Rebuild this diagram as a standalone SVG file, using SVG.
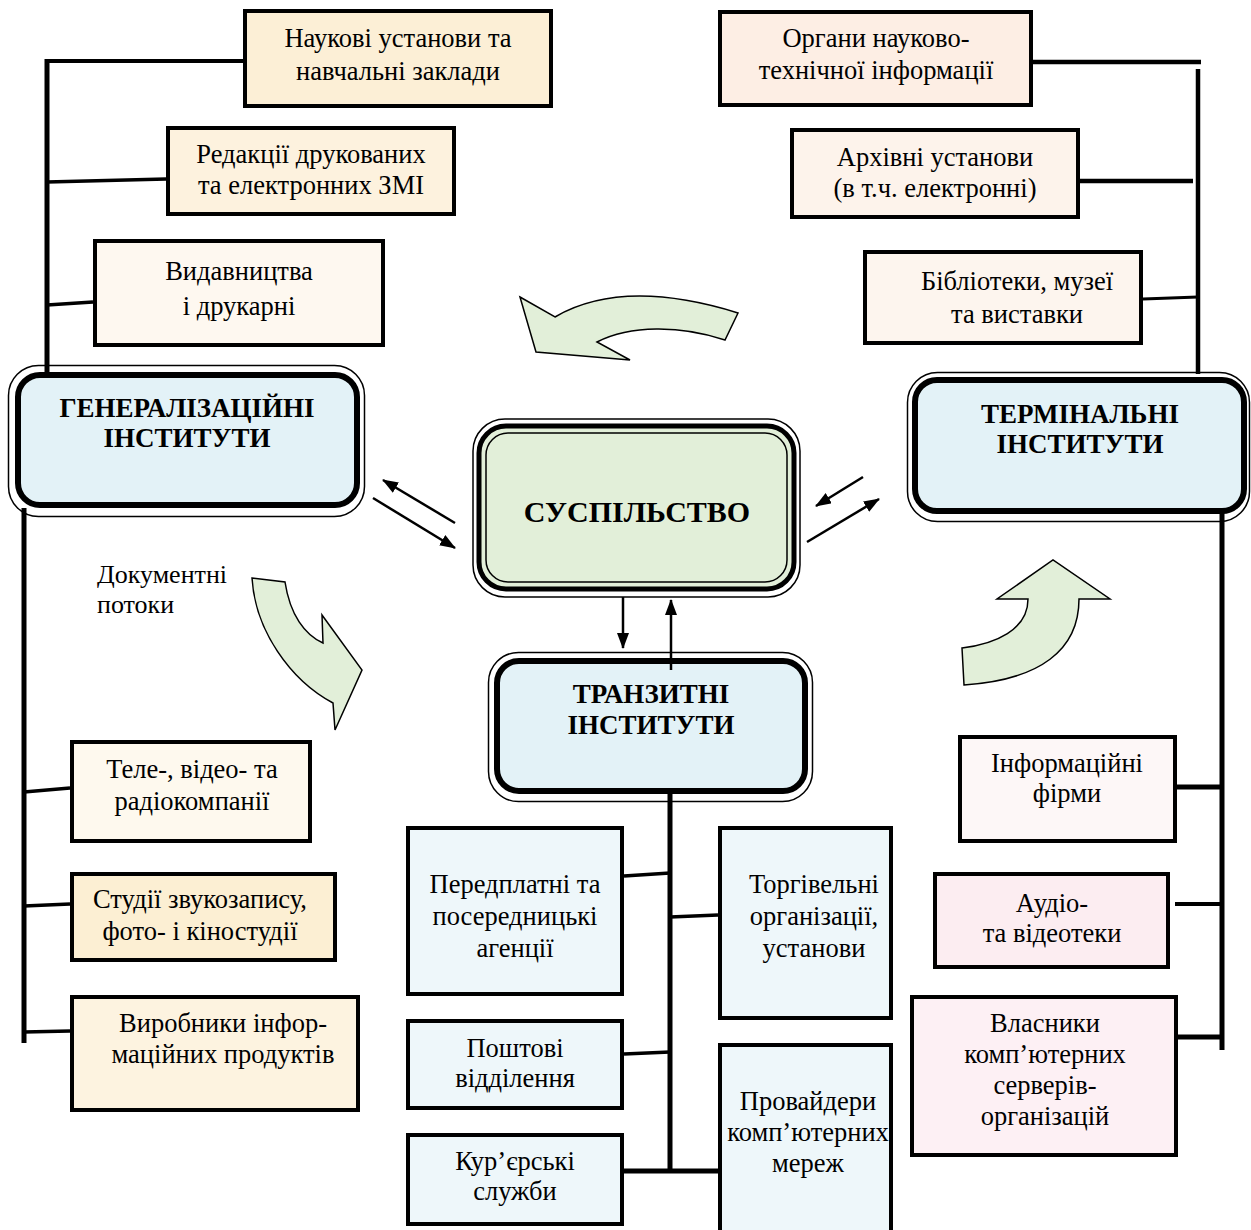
<svg xmlns="http://www.w3.org/2000/svg" width="1251" height="1230" viewBox="0 0 1251 1230">
<defs>
<marker id="ah" viewBox="0 0 16 12" refX="15" refY="6" markerWidth="16" markerHeight="12" markerUnits="userSpaceOnUse" orient="auto"><path d="M0,0 L16,6 L0,12 z" fill="#000"/></marker>
</defs>
<style>
.box{stroke:#000;stroke-width:4}
.t{font-family:"Liberation Serif","Times New Roman",serif;font-size:26.5px;text-anchor:middle;fill:#000}
.s{font-family:"Liberation Serif","Times New Roman",serif;font-size:26px;fill:#000}
.b{font-family:"Liberation Serif","Times New Roman",serif;font-weight:bold;font-size:27px;text-anchor:middle;fill:#000}
.thin{fill:none;stroke:#000;stroke-width:1.5}
.thick{stroke:#000;stroke-width:6}
.ln{stroke:#000;fill:none}
.ar{stroke:#000;stroke-width:2.5;fill:none;marker-end:url(#ah)}
.curve{fill:#e2efd9;stroke:#000;stroke-width:1.5;stroke-linejoin:miter}
</style>
<rect width="1251" height="1230" fill="#fff"/>

<g id="flows">
<path class="curve" d="M520,297 L555,317 C610,285 680,295 738,313 L725,340 C680,325 630,325 597,342 L630,360 L536,352 Z"/>
<path class="curve" d="M252,578 L285,582 C290,615 305,635 323,643 L322,615 L362,670 L335,730 L333,703 C290,680 255,630 252,578 Z"/>
<path class="curve" d="M962,648 C995,644 1028,630 1028,599 L997,599 L1053,560 L1110,599 L1079,599 C1079,650 1040,680 964,685 Z"/>
<text class="s" x="97" y="583">Документні</text>
<text class="s" x="97" y="613">потоки</text>
</g>

<g id="n-naukovi"><rect class="box" x="245" y="11" width="306" height="95" fill="#fcefd6"/>
<text class="t" x="398" y="47">Наукові установи та</text><text class="t" x="398" y="80">навчальні заклади</text></g>
<g id="n-redaktsii"><rect class="box" x="168" y="128" width="286" height="86" fill="#fdf2de"/>
<text class="t" x="311" y="163">Редакції друкованих</text><text class="t" x="311" y="194">та електронних ЗМІ</text></g>
<g id="n-vydavnytstva"><rect class="box" x="95" y="241" width="288" height="104" fill="#fef8f0"/>
<text class="t" x="239" y="280">Видавництва</text><text class="t" x="239" y="315">і друкарні</text></g>

<g id="n-orhany"><rect class="box" x="720" y="12" width="311" height="93" fill="#fdeee4"/>
<text class="t" x="876" y="47">Органи науково-</text><text class="t" x="876" y="79">технічної інформації</text></g>
<g id="n-arkhivni"><rect class="box" x="792" y="130" width="286" height="87" fill="#fdf3eb"/>
<text class="t" x="935" y="166">Архівні установи</text><text class="t" x="935" y="197">(в т.ч. електронні)</text></g>
<g id="n-biblioteky"><rect class="box" x="865" y="252" width="276" height="91" fill="#fdf5ee"/>
<text class="t" x="1017" y="290">Бібліотеки, музеї</text><text class="t" x="1017" y="323">та виставки</text></g>

<g id="n-heneral"><rect class="thin" x="8.5" y="365.5" width="356" height="151" rx="30"/>
<rect class="thick" x="18" y="375" width="339" height="130" rx="22" fill="#e3f2f7"/>
<text class="b" x="187" y="417">ГЕНЕРАЛІЗАЦІЙНІ</text><text class="b" x="187" y="447">ІНСТИТУТИ</text></g>

<g id="n-terminal"><rect class="thin" x="907.5" y="372.5" width="342" height="149" rx="30"/>
<rect class="thick" x="915" y="380" width="329" height="131" rx="22" fill="#e3f2f7"/>
<text class="b" x="1080" y="423">ТЕРМІНАЛЬНІ</text><text class="b" x="1080" y="453">ІНСТИТУТИ</text></g>

<g id="n-suspilstvo"><rect class="thin" x="473" y="419" width="327" height="178" rx="32"/>
<rect x="479" y="426" width="315" height="163" rx="27" fill="#e2efd9" stroke="#000" stroke-width="5"/>
<rect class="thin" x="486" y="433" width="301" height="149" rx="22"/>
<text class="b" x="637" y="522" style="font-size:30px">СУСПІЛЬСТВО</text></g>

<g id="n-tranzyt"><rect class="thin" x="488.5" y="652.5" width="324" height="149" rx="30"/>
<rect class="thick" x="497" y="661" width="308" height="130" rx="22" fill="#e3f2f7"/>
<text class="b" x="651" y="703">ТРАНЗИТНІ</text><text class="b" x="651" y="734">ІНСТИТУТИ</text></g>

<g id="n-tele"><rect class="box" x="72" y="742" width="238" height="99" fill="#fef9ee"/>
<text class="t" x="192" y="778">Теле-, відео- та</text><text class="t" x="192" y="810">радіокомпанії</text></g>
<g id="n-studii"><rect class="box" x="72" y="874" width="263" height="86" fill="#fcefd3"/>
<text class="t" x="200" y="908">Студії звукозапису,</text><text class="t" x="200" y="940">фото- і кіностудії</text></g>
<g id="n-vyrobnyky"><rect class="box" x="72" y="997" width="286" height="113" fill="#fdf3e0"/>
<text class="t" x="223" y="1032">Виробники інфор-</text><text class="t" x="223" y="1063">маційних продуктів</text></g>

<g id="n-peredplatni"><rect class="box" x="408" y="828" width="214" height="166" fill="#eef7fa"/>
<text class="t" x="515" y="893">Передплатні та</text><text class="t" x="515" y="925">посередницькі</text><text class="t" x="515" y="957">агенції</text></g>
<g id="n-torhivelni"><rect class="box" x="720" y="828" width="171" height="190" fill="#eef7fa"/>
<text class="t" x="814" y="893">Торгівельні</text><text class="t" x="814" y="925">організації,</text><text class="t" x="814" y="957">установи</text></g>
<g id="n-poshtovi"><rect class="box" x="408" y="1021" width="214" height="87" fill="#eef7fa"/>
<text class="t" x="515" y="1057">Поштові</text><text class="t" x="515" y="1087">відділення</text></g>
<g id="n-kurierski"><rect class="box" x="408" y="1135" width="214" height="89" fill="#eef7fa"/>
<text class="t" x="515" y="1170">Кур’єрські</text><text class="t" x="515" y="1200">служби</text></g>
<g id="n-provaidery"><rect class="box" x="720" y="1045" width="171" height="200" fill="#eef7fa"/>
<text class="t" x="808" y="1110">Провайдери</text><text class="t" x="808" y="1141">комп’ютерних</text><text class="t" x="808" y="1172">мереж</text></g>

<g id="n-informatsiini"><rect class="box" x="960" y="737" width="215" height="104" fill="#fdf7f7"/>
<text class="t" x="1067" y="772">Інформаційні</text><text class="t" x="1067" y="802">фірми</text></g>
<g id="n-audio"><rect class="box" x="935" y="874" width="233" height="93" fill="#fcedf1"/>
<text class="t" x="1052" y="912">Аудіо-</text><text class="t" x="1052" y="942">та відеотеки</text></g>
<g id="n-vlasnyky"><rect class="box" x="912" y="997" width="264" height="158" fill="#fdf0f4"/>
<text class="t" x="1045" y="1032">Власники</text><text class="t" x="1045" y="1063">комп’ютерних</text><text class="t" x="1045" y="1094">серверів-</text><text class="t" x="1045" y="1125">організацій</text></g>

<g id="connectors">
<line class="ln" x1="47" y1="59" x2="47" y2="374" stroke-width="5"/>
<line class="ln" x1="45" y1="61" x2="243" y2="61" stroke-width="4"/>
<line class="ln" x1="47" y1="182" x2="166" y2="179" stroke-width="3.5"/>
<line class="ln" x1="47" y1="305" x2="93" y2="302" stroke-width="3.5"/>
<line class="ln" x1="24" y1="508" x2="24" y2="1043" stroke-width="5"/>
<line class="ln" x1="24" y1="792" x2="70" y2="788" stroke-width="3.5"/>
<line class="ln" x1="24" y1="906" x2="70" y2="904" stroke-width="3.5"/>
<line class="ln" x1="24" y1="1032" x2="70" y2="1031" stroke-width="3.5"/>
<line class="ln" x1="1033" y1="62" x2="1201" y2="62" stroke-width="4.5"/>
<line class="ln" x1="1198" y1="69" x2="1198" y2="374" stroke-width="4.5"/>
<line class="ln" x1="1080" y1="181" x2="1193" y2="181" stroke-width="4.5"/>
<line class="ln" x1="1143" y1="299" x2="1198" y2="297" stroke-width="3"/>
<line class="ln" x1="1222" y1="508" x2="1222" y2="1050" stroke-width="5"/>
<line class="ln" x1="1177" y1="787" x2="1222" y2="787" stroke-width="5"/>
<line class="ln" x1="1175" y1="904" x2="1222" y2="904" stroke-width="4"/>
<line class="ln" x1="1178" y1="1037" x2="1222" y2="1037" stroke-width="5"/>
<line class="ln" x1="670" y1="793" x2="670" y2="1173" stroke-width="5"/>
<line class="ln" x1="624" y1="876" x2="670" y2="873" stroke-width="3.5"/>
<line class="ln" x1="670" y1="917" x2="718" y2="915" stroke-width="3.5"/>
<line class="ln" x1="624" y1="1054" x2="670" y2="1052" stroke-width="3.5"/>
<line class="ln" x1="624" y1="1171" x2="718" y2="1171" stroke-width="5"/>
<line class="ar" x1="455" y1="523" x2="383" y2="480"/>
<line class="ar" x1="373" y1="498" x2="455" y2="548"/>
<line class="ar" x1="863" y1="477" x2="816" y2="506"/>
<line class="ar" x1="807" y1="542" x2="879" y2="499"/>
<line class="ar" x1="623" y1="597" x2="623" y2="648"/>
<line class="ar" x1="671" y1="670" x2="671" y2="600"/>
</g>
</svg>
